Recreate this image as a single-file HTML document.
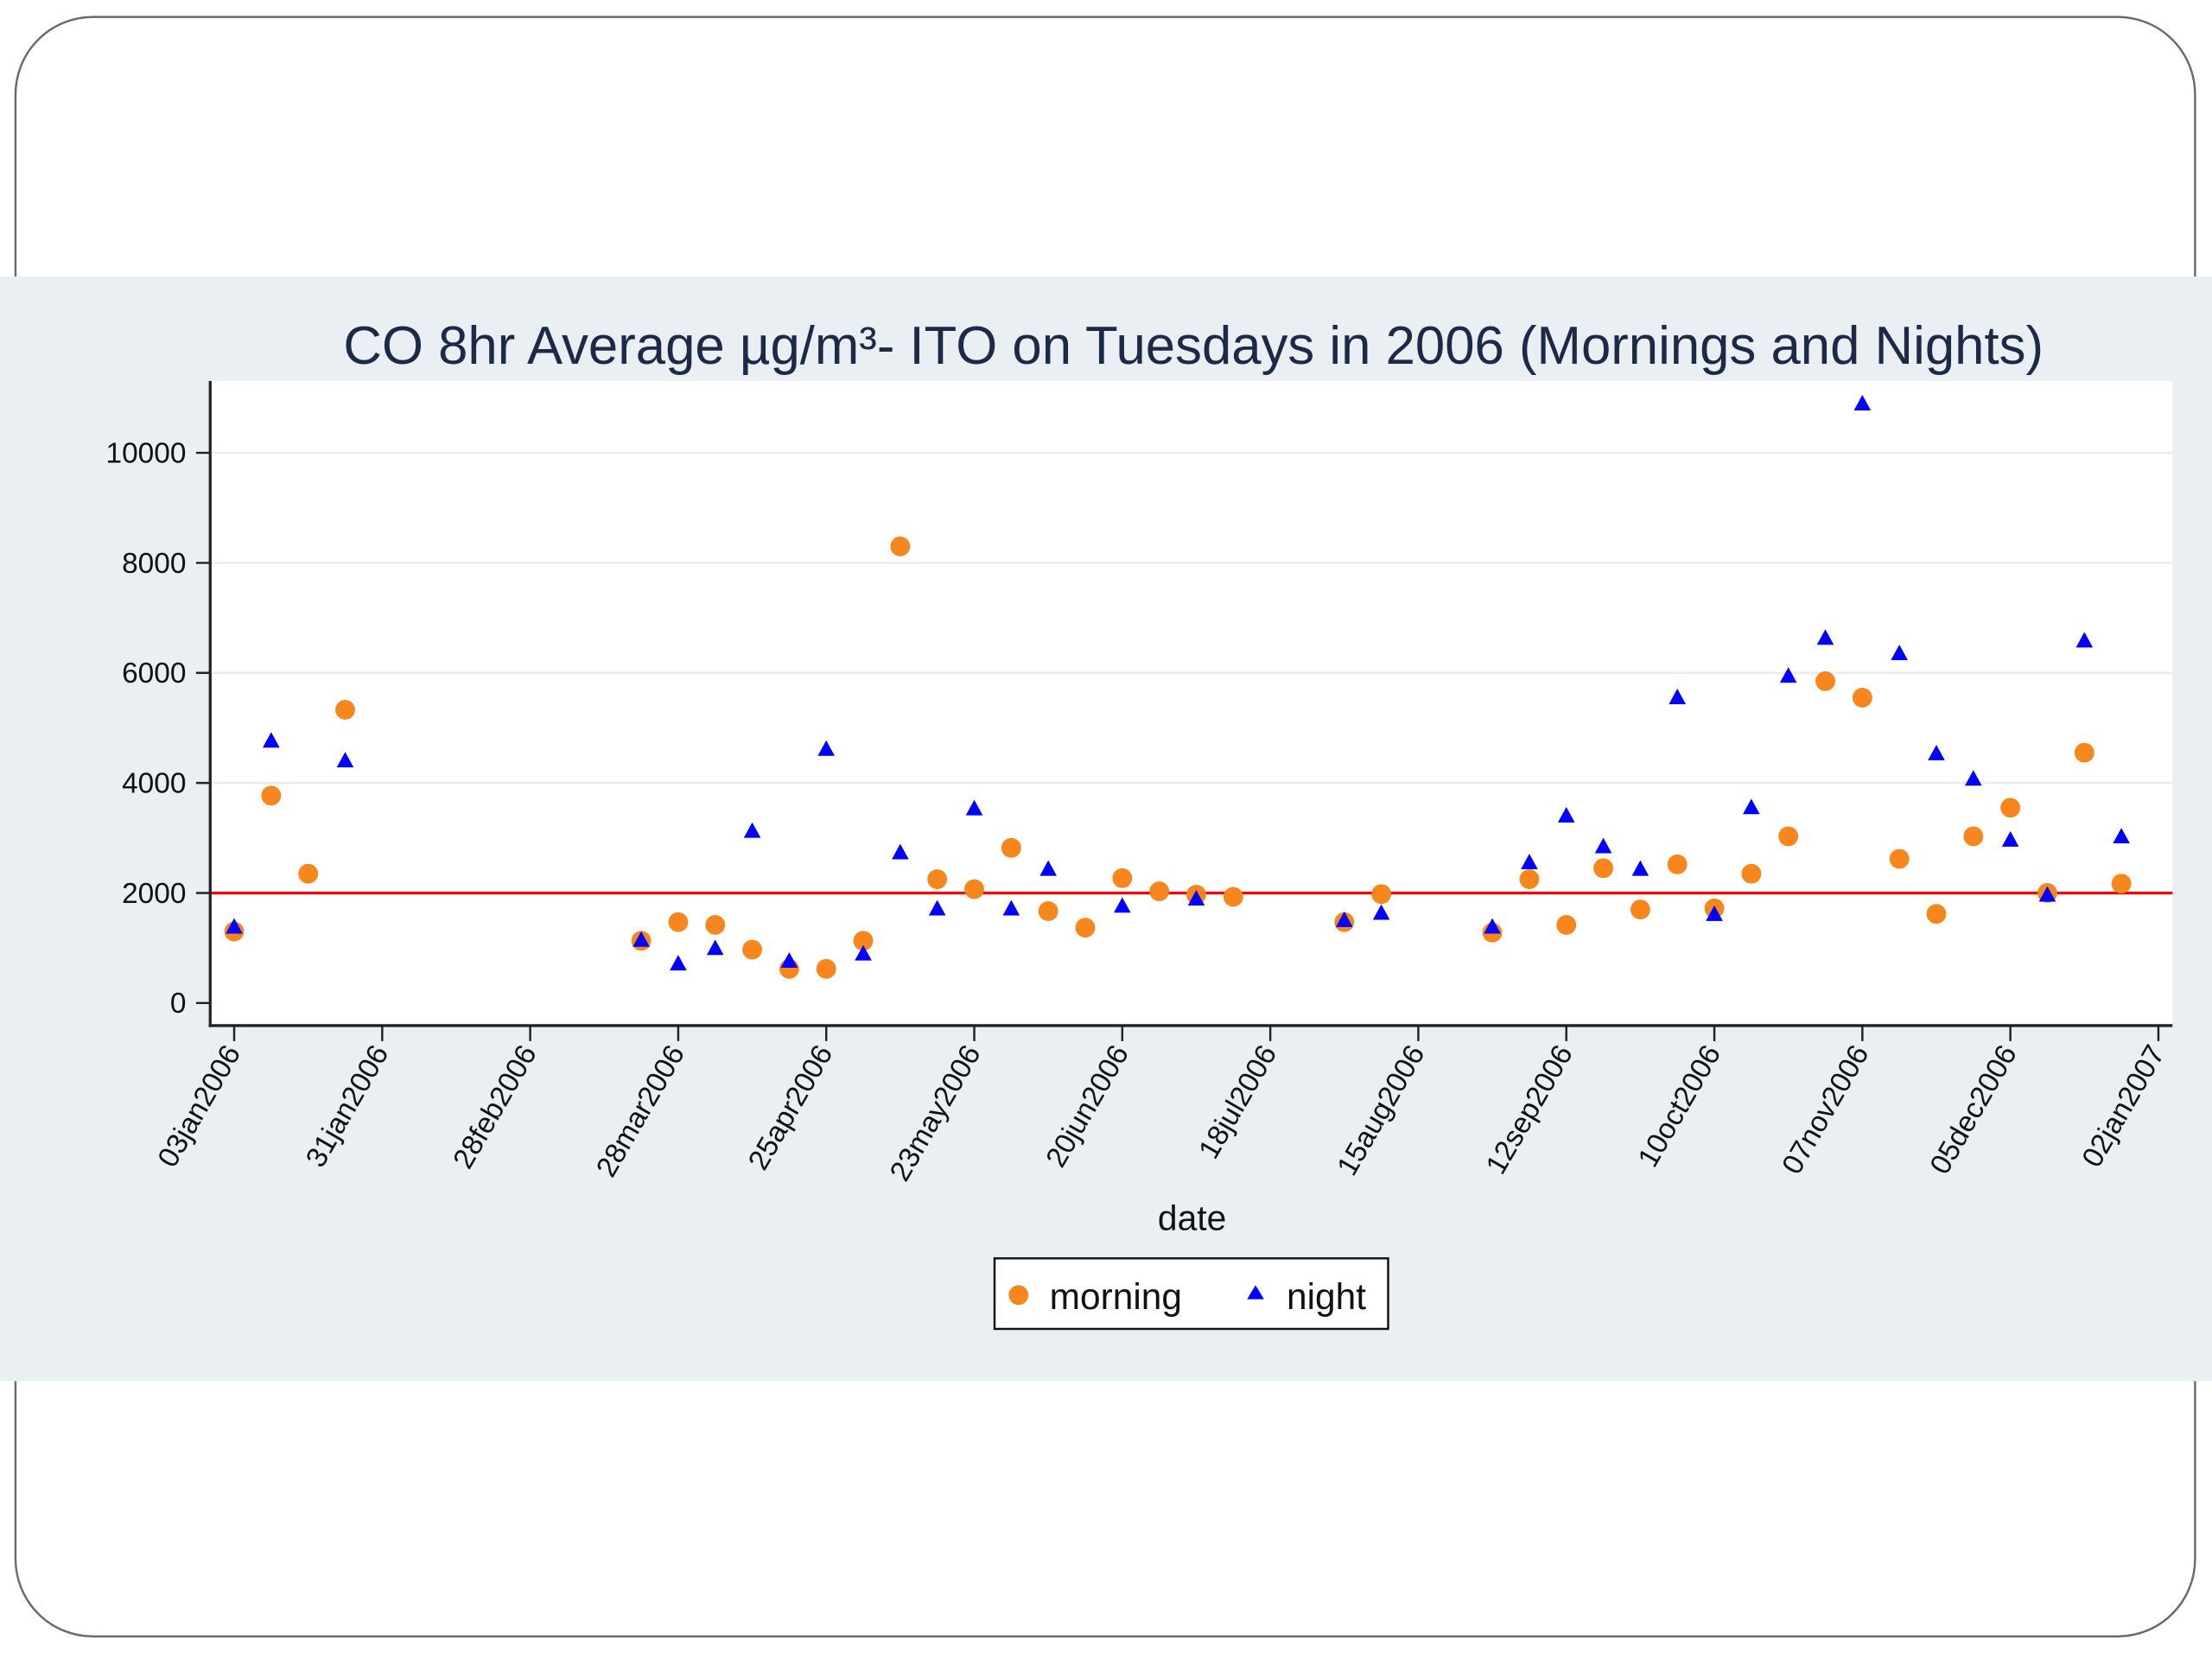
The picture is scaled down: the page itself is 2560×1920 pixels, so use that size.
<!DOCTYPE html>
<html><head><meta charset="utf-8"><style>
html,body{margin:0;padding:0;background:#fff;}
svg{display:block;font-family:"Liberation Sans",Arial,sans-serif;}
</style></head><body>
<svg id="chart" width="2560" height="1920" viewBox="0 0 1568 1176" xmlns="http://www.w3.org/2000/svg">
<rect x="11" y="12" width="1545" height="1148" rx="55" ry="55" fill="#fff" stroke="#6b6b6b" stroke-width="1.5"/>
<rect x="0" y="196" width="1568" height="783" fill="#e9eff3"/>
<rect x="149" y="270" width="1391" height="457" fill="#fff"/>
<text x="846" y="258" text-anchor="middle" font-size="37.8" fill="#1c2a48">CO 8hr Average µg/m³- ITO on Tuesdays in 2006 (Mornings and Nights)</text>
<g id="grid"></g><g id="axes"></g><g id="marks"></g>
<text x="845" y="872" text-anchor="middle" font-size="25" fill="#111">date</text>
<g>
<rect x="705" y="892" width="279" height="50" fill="#fff" stroke="#111" stroke-width="1.5"/>
<circle cx="722" cy="918" r="7" fill="#f7861c"/>
<text x="744" y="928" font-size="26" fill="#111">morning</text>
<path d="M890 911 L896 921 L884 921 Z" fill="#0000ff"/>
<text x="912" y="928" font-size="26" fill="#111">night</text>
</g>
</svg>
<script>
const yTicks=[0,2000,4000,6000,8000,10000];
const xTickLabels=["03jan2006","31jan2006","28feb2006","28mar2006","25apr2006","23may2006","20jun2006","18jul2006","15aug2006","12sep2006","10oct2006","07nov2006","05dec2006","02jan2007"];
const xTickWeeks=[0,4,8,12,16,20,24,28,32,36,40,44,48,52];
const morningWeeks=[0,1,2,3,11,12,13,14,15,16,17,18,19,20,21,22,23,24,25,26,27,30,31,34,35,36,37,38,39,40,41,42,43,44,45,46,47,48,49,50,51];
const morningValues=[1300,3770,2350,5330,1130,1470,1420,970,620,620,1130,8300,2250,2070,2820,1670,1370,2270,2030,1970,1930,1470,1980,1280,2250,1420,2450,1700,2520,1720,2350,3030,5850,5550,2620,1620,3030,3550,2000,4550,2170];
const nightWeeks=[0,1,3,11,12,13,14,15,16,17,18,19,20,21,22,24,26,30,31,34,35,36,37,38,39,40,41,42,43,44,45,46,47,48,49,50,51];
const nightValues=[1390,4770,4410,1150,720,1000,3130,770,4620,900,2740,1720,3540,1720,2440,1770,1900,1510,1640,1390,2560,3410,2850,2440,5560,1620,3560,5950,6640,10900,6360,4540,4080,2970,1970,6590,3030];
const refLine=2000;
const NS="http://www.w3.org/2000/svg";
const xS=w=>166+w*(1530-166)/52;
const yS=v=>711-v*0.039;
function mk(t,a,p){const e=document.createElementNS(NS,t);for(const k in a)e.setAttribute(k,a[k]);document.getElementById(p).appendChild(e);return e;}
yTicks.forEach(v=>{
 if(v>0){const g=mk('line',{x1:150,x2:1540,y1:yS(v),y2:yS(v),stroke:'#ececec','stroke-width':1.5},'grid');
 
 }
 const t=mk('line',{x1:139,x2:149,y1:yS(v),y2:yS(v),stroke:'#222','stroke-width':1.5},'axes');
 
 
 const l=mk('text',{x:132,y:yS(v)+7,'text-anchor':'end','font-size':20.5,fill:'#111'},'axes');l.textContent=v;
 
 
});
const ya=mk('line',{x1:149,x2:149,y1:270,y2:728,stroke:'#222','stroke-width':2},'axes');


const xa=mk('line',{x1:148,x2:1540,y1:727,y2:727,stroke:'#222','stroke-width':2},'axes');


xTickWeeks.forEach((w,i)=>{
 const x=xS(w);
 const t=mk('line',{x1:x,x2:x,y1:727,y2:738,stroke:'#222','stroke-width':1.5},'axes');
 
 
 const l=mk('text',{x:x+5,y:746,'text-anchor':'end','font-size':20.5,fill:'#111',transform:`rotate(-60 ${x+5} 746)`},'axes');l.textContent=xTickLabels[i];
 
 
});
const rl=mk('line',{x1:150,x2:1540,y1:yS(refLine),y2:yS(refLine),stroke:'#ff0000','stroke-width':2},'marks');


morningWeeks.forEach((w,i)=>{
 const c=mk('circle',{cx:xS(w),cy:yS(morningValues[i]),r:7,fill:'#f7861c'},'marks');
 
 
});
nightWeeks.forEach((w,i)=>{
 const x=xS(w),y=yS(nightValues[i]);
 const p=mk('path',{d:`M${x} ${y-6} L${x+6} ${y+5} L${x-6} ${y+5} Z`,fill:'#0000ff'},'marks');
 
 
});
</script>
</body></html>
